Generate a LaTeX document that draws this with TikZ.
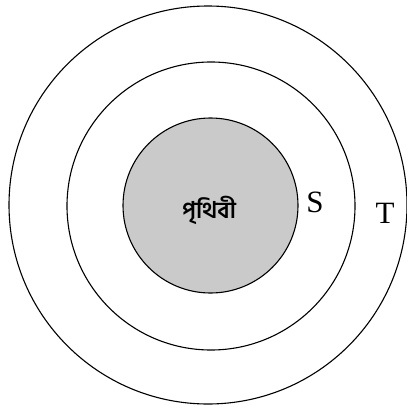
\documentclass[tikz,border=0pt]{standalone}
\usepackage{fontspec}
\setmainfont{Liberation Serif}
\newfontfamily\bnfont[Script=Bengali]{Hind Siliguri}
\definecolor{earthgray}{RGB}{202,202,202}
\tikzset{ring/.style={draw=black,line width=1.1pt},
  lbl/.style={font=\fontsize{31}{33}\selectfont, inner sep=0pt}}
\begin{document}
\begin{tikzpicture}[x=1pt,y=-1pt]
\useasboundingbox (0,0) rectangle (407,407);
\draw[ring] (208,205) circle (199);
\draw[ring] (211,206) circle (144);
\draw[ring,fill=earthgray] (210.5,205.5) circle (87.5);
\node[inner sep=0pt,font=\bnfont\bfseries\fontsize{23}{25}\selectfont] (earth) at (209,210) {পৃথিবী};
\node[lbl] (S) at (315,202.5) {S};
\node[lbl] (T) at (385,213) {T};
\end{tikzpicture}
\end{document}
